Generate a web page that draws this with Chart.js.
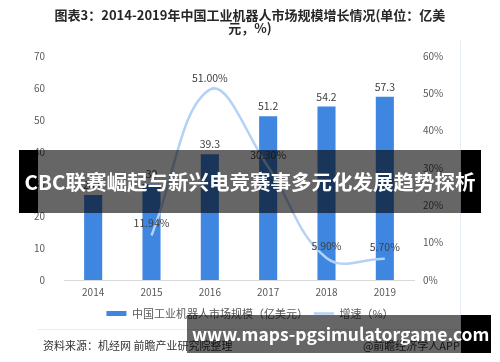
<!DOCTYPE html>
<html>
<head>
<meta charset="utf-8">
<script src="https://cdn.jsdelivr.net/npm/chart.js@4/dist/chart.umd.min.js"></script>
<style>
	body { margin: 0; background: #fff; font-family: "Noto Sans CJK SC", "Noto Sans", sans-serif; }
	.wrap { position: relative; width: 500px; height: 362px; overflow: hidden; }
	canvas { position: absolute; left: 0; top: 0; }
	.title { position: absolute; left: 0; top: 9px; width: 500px; text-align: center; font-size: 13px; font-weight: bold; line-height: 12.5px; color: #262626; }
	.frame { position: absolute; left: 38px; top: 40px; width: 422px; height: 289px; border-right: 1px solid #e6ecf3; border-bottom: 1px solid #e6ecf3; }
	.source { position: absolute; left: 43px; top: 337px; font-size: 11px; color: #333; line-height: 16px; }
	.app { position: absolute; right: 40px; top: 337px; font-size: 11px; color: #333; line-height: 16px; }
	.blk { position: absolute; background: #000; }
	.shade { position: absolute; background: rgba(0, 0, 0, 0.6); }
	.btext { position: absolute; color: #fff; font-weight: bold; text-align: center; white-space: nowrap; }
</style>
</head>
<body>
<div class="wrap">
	<div class="frame"></div>
	<canvas id="chart" width="500" height="362"></canvas>
	<div class="title">图表3：2014-2019年中国工业机器人市场规模增长情况(单位：亿美<br>元，%)</div>
	<div class="source">资料来源：机经网 前瞻产业研究院整理</div>
	<div class="app">@前瞻经济学人APP</div>

	<div class="blk" style="left:19px;top:150px;width:19px;height:63px"></div>
	<div class="shade" style="left:38px;top:150px;width:423px;height:63px"></div>
	<div class="blk" style="left:461px;top:150px;width:20px;height:63px"></div>
	<div class="btext" style="left:19px;top:166px;width:462px;font-size:20.5px;line-height:30px">CBC联赛崛起与新兴电竞赛事多元化发展趋势探析</div>

	<div class="shade" style="left:187px;top:315px;width:274px;height:38px"></div>
	<div class="blk" style="left:461px;top:315px;width:30px;height:38px"></div>
	<div class="btext" style="left:192px;top:321px;width:294px;font-size:17.5px;line-height:26px">www.maps-pgsimulatorgame.com</div>
</div>
<script>
const years = ['2014', '2015', '2016', '2017', '2018', '2019'];
const marketSize = [26.6, 30, 39.3, 51.2, 54.2, 57.3];
const growthRate = [null, 11.94, 51.00, 30.30, 5.90, 5.70];
const leftTicks = [0, 10, 20, 30, 40, 50, 60, 70];
const rightTicks = [0, 10, 20, 30, 40, 50, 60];

const FONT = '"Noto Sans CJK SC", "Noto Sans", sans-serif';

const valueLabels = {
	id: 'valueLabels',
	afterDatasetsDraw(chart) {
		const ctx = chart.ctx;
		ctx.save();
		ctx.font = '10.5px ' + FONT;
		ctx.fillStyle = '#404040';
		ctx.textAlign = 'center';
		ctx.textBaseline = 'middle';
		chart.data.datasets.forEach((ds, i) => {
			const meta = chart.getDatasetMeta(i);
			meta.data.forEach((el, j) => {
				const v = ds.data[j];
				if (v === null || v === undefined) return;
				if (ds.type === 'line') {
					ctx.fillText(v.toFixed(2) + '%', el.x, el.y - 12);
				} else {
					ctx.fillText(String(v), el.x, el.y - 10);
				}
			});
		});
		ctx.restore();
	}
};

const ctx = document.getElementById('chart').getContext('2d');
new Chart(ctx, {
	data: {
		labels: years,
		datasets: [
			{
				type: 'line',
				label: '增速（%）',
				data: growthRate,
				yAxisID: 'y2',
				borderColor: '#b3d2f5',
				backgroundColor: '#b3d2f5',
				borderWidth: 2.5,
				tension: 0.4,
				pointRadius: 0,
				pointStyle: 'line',
				order: 0
			},
			{
				type: 'bar',
				label: '中国工业机器人市场规模（亿美元）',
				data: marketSize,
				yAxisID: 'y',
				backgroundColor: '#3f86e0',
				categoryPercentage: 1,
				barPercentage: 0.31,
				pointStyle: 'rect',
				order: 1
			}
		]
	},
	options: {
		responsive: false,
		animation: false,
		layout: { padding: { top: 56, left: 0, right: 0, bottom: 33 } },
		plugins: {
			tooltip: { enabled: false },
			legend: {
				position: 'bottom',
				reverse: true,
				labels: {
					usePointStyle: true,
					pointStyleWidth: 20,
					boxHeight: 5,
					padding: 6,
					color: '#595959',
					font: { family: FONT, size: 11 }
				}
			}
		},
		scales: {
			x: {
				grid: { display: false, drawTicks: false },
				border: { display: true, color: '#d9d9d9', width: 1 },
				ticks: { color: '#595959', font: { family: FONT, size: 10 }, padding: 6 },
				afterFit: s => { s.height = 22; }
			},
			y: {
				position: 'left',
				min: 0,
				max: 70,
				grid: { display: false, drawTicks: false },
				border: { display: false },
				afterBuildTicks: s => { s.ticks = leftTicks.map(v => ({ value: v })); },
				ticks: { color: '#595959', font: { family: FONT, size: 10 }, padding: 19 },
				afterFit: s => { s.width = 64; }
			},
			y2: {
				position: 'right',
				min: 0,
				max: 60,
				grid: { display: false, drawTicks: false },
				border: { display: false },
				afterBuildTicks: s => { s.ticks = rightTicks.map(v => ({ value: v })); },
				ticks: { color: '#595959', font: { family: FONT, size: 10 }, padding: 9, callback: v => v + '%' },
				afterFit: s => { s.width = 86; }
			}
		}
	},
	plugins: [valueLabels]
});
</script>
</body>
</html>
